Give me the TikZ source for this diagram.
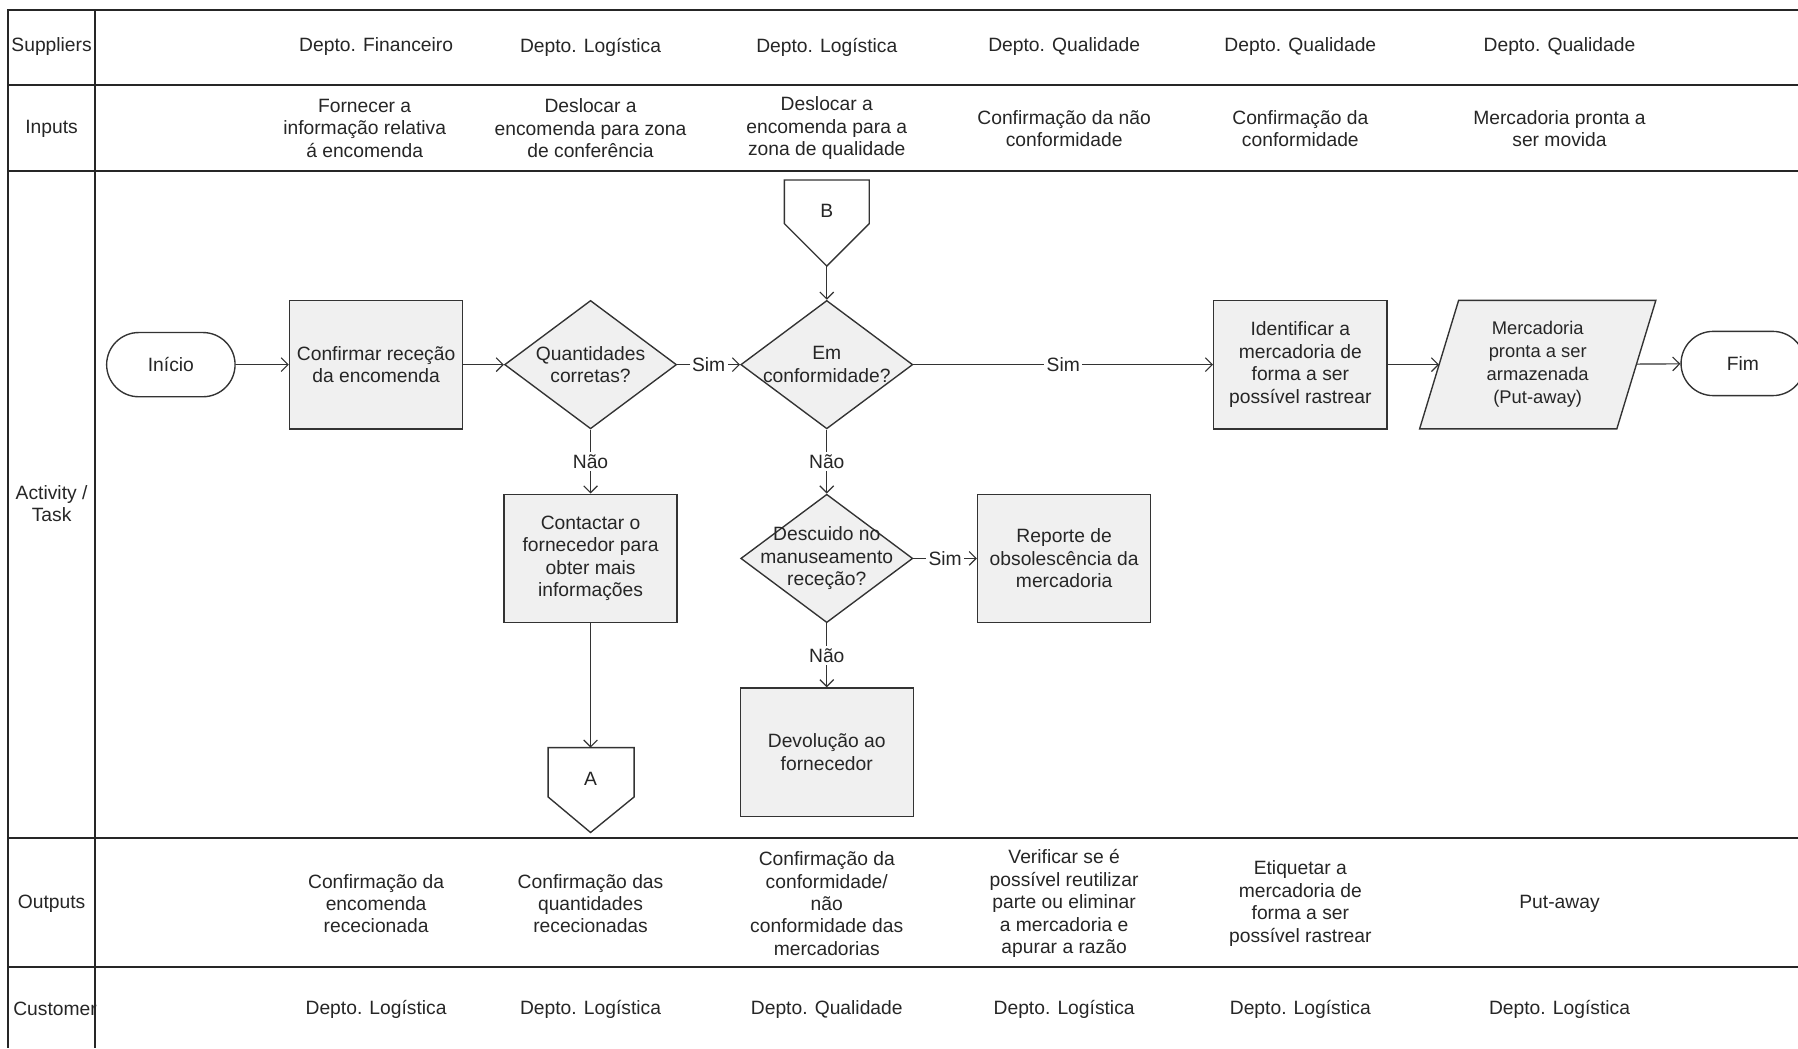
\documentclass[tikz,border=0pt]{standalone}
\usepackage{fontspec}
\setmainfont{Liberation Sans}
\usetikzlibrary{arrows.meta,shapes.geometric}
\definecolor{ln}{HTML}{333333}
\definecolor{bx}{HTML}{F0F0F0}
\begin{document}
\begin{tikzpicture}[x=0.5pt,y=-0.5pt,
 every node/.style={font=\fontsize{8.4pt}{9.8pt}\selectfont, text=black!85, align=center, inner sep=0pt},
 frame/.style={draw=black!85, line width=0.8pt},
 proc/.style={draw=ln, fill=bx, line width=0.6pt, minimum width=75.5pt, minimum height=56pt},
 dia/.style={diamond, draw=ln, fill=bx, line width=0.6pt, minimum width=75pt, minimum height=56pt},
 term/.style={draw=ln, fill=white, line width=0.6pt, rounded corners=14pt, minimum width=56pt, minimum height=28pt},
 shp/.style={draw=ln, line width=0.6pt},
 conn/.style={draw=ln, line width=0.5pt, -{Straight Barb[length=3pt,width=6pt]}},
 lab/.style={fill=white, inner sep=1pt},
 ghost/.style={inner sep=0pt, outer sep=0pt},
 small/.style={font=\fontsize{8pt}{10pt}\selectfont},
]
\useasboundingbox (0,0) rectangle (1568,914);
\fill[white] (0,0) rectangle (1568,914);

% frame
\draw[frame] (1568,9) -- (7,9) -- (7,914);
\draw[frame] (83,9) -- (83,914);
\foreach \y in {74,149,731,843} \draw[frame] (7,\y) -- (1568,\y);

% row labels
\node (lS) at (45,41) {Suppliers};
\node (lI) at (45,112) {Inputs};
\node (lA) at (45,439) {Activity /\\Task};
\node (lO) at (45,788) {Outputs};
\node (lC) at (48,880) {Customer};

% suppliers
\foreach \x/\t [count=\i] in {328/{Depto. Financeiro},515/{Depto. Logística},721/{Depto. Logística},928/{Depto. Qualidade},1134/{Depto. Qualidade},1360/{Depto. Qualidade}}
  \node (sup\i) at (\x,41) {\t};

% inputs
\foreach \x/\t [count=\i] in {318/{Fornecer a\\informação relativa\\á encomenda},515/{Deslocar a\\encomenda para zona\\de conferência},721/{Deslocar a\\encomenda para a\\zona de qualidade},928/{Confirmação da não\\conformidade},1134/{Confirmação da\\conformidade},1360/{Mercadoria pronta a\\ser movida}}
  \node (inp\i) at (\x,112) {\t};

% outputs
\foreach \x/\t [count=\i] in {328/{Confirmação da\\encomenda\\rececionada},515/{Confirmação das\\quantidades\\rececionadas},721/{Confirmação da\\conformidade/\\não\\conformidade das\\mercadorias},928/{Verificar se é\\possível reutilizar\\parte ou eliminar\\a mercadoria e\\apurar a razão},1134/{Etiquetar a\\mercadoria de\\forma a ser\\possível rastrear},1360/{Put-away}}
  \node (out\i) at (\x,788) {\t};

% customers
\foreach \x/\t [count=\i] in {328/{Depto. Logística},515/{Depto. Logística},721/{Depto. Qualidade},928/{Depto. Logística},1134/{Depto. Logística},1360/{Depto. Logística}}
  \node (cus\i) at (\x,880) {\t};

% activity nodes
\node[term] (ini) at (149,318) {Início};
\node[proc] (conf) at (328,318) {Confirmar receção\\da encomenda};
\node[dia] (d1) at (515,318) {};
\node (d1t) at (515,318) {Quantidades\\corretas?};
\node[dia] (d2) at (721,318) {};
\node (d2t) at (721,318) {Em\\conformidade?};

\node[ghost, minimum width=37pt, minimum height=37.5pt] (B) at (721,194.5) {};
\draw[shp, fill=white] (684,157) -- (758,157) -- (758,195) -- (721,232) -- (684,195) -- cycle;
\node (Bt) at (721,184) {B};

\node[proc] (ident) at (1134,318) {Identificar a\\mercadoria de\\forma a ser\\possível rastrear};
\node[ghost, minimum width=86pt, minimum height=56pt] (para) at (1341,318) {};
\draw[shp, fill=bx] (1272,262) -- (1444,262) -- (1410,374) -- (1238,374) -- cycle;
\node[small] (parat) at (1341,318) {Mercadoria\\pronta a ser\\armazenada\\(Put-away)};
\node[term, minimum width=54pt] (fim) at (1520,317) {Fim};

\node[proc] (cont) at (515,487) {Contactar o\\fornecedor para\\obter mais\\informações};
\node[ghost, minimum width=37.5pt, minimum height=37pt] (A) at (515,689) {};
\draw[shp, fill=white] (478,652) -- (553,652) -- (553,695) -- (515,726) -- (478,695) -- cycle;
\node (At) at (515,679) {A};

\node[dia] (d3) at (721,487) {};
\node (d3t) at (721,487) {Descuido no\\manuseamento\\receção?};
\node[proc] (rep) at (928,487) {Reporte de\\obsolescência da\\mercadoria};
\node[proc] (dev) at (721,656) {Devolução ao\\fornecedor};

% connectors
\draw[conn] (ini) -- (conf);
\draw[conn] (conf) -- (d1);
\draw[conn] (d1) -- node[lab]{Sim} (d2);
\draw[conn] (B) -- (d2);
\draw[conn] (d2) -- node[lab]{Sim} (ident);
\draw[conn] (ident) -- (para);
\draw[conn] (para) -- (fim);
\draw[conn] (d1) -- node[lab]{Não} (cont);
\draw[conn] (cont) -- (A);
\draw[conn] (d2) -- node[lab]{Não} (d3);
\draw[conn] (d3) -- node[lab]{Sim} (rep);
\draw[conn] (d3) -- node[lab]{Não} (dev);
\end{tikzpicture}
\end{document}
